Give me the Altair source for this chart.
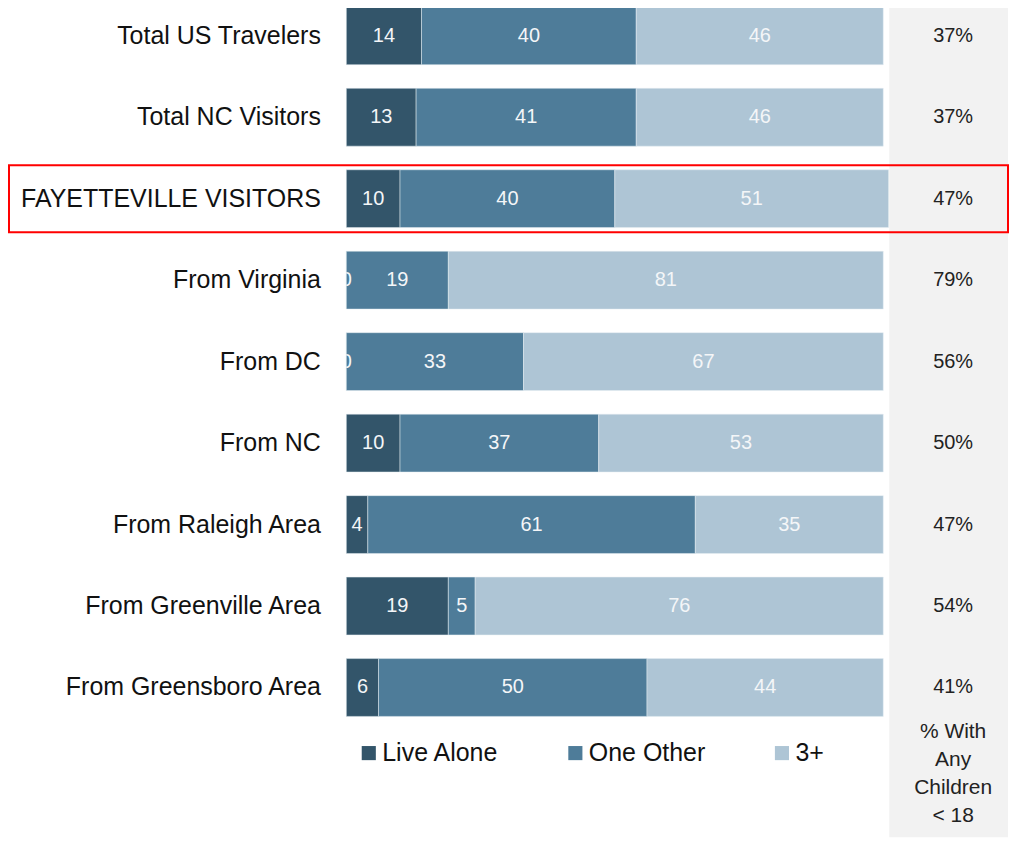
import altair as alt
import pandas as pd

categories = ["Total US Travelers", "Total NC Visitors", "FAYETTEVILLE VISITORS",
              "From Virginia", "From DC", "From NC", "From Raleigh Area",
              "From Greenville Area", "From Greensboro Area"]
live_alone = [14, 13, 10, 0, 0, 10, 4, 19, 6]
one_other = [40, 41, 40, 19, 33, 37, 61, 5, 50]
three_plus = [46, 46, 51, 81, 67, 53, 35, 76, 44]
pct_children = [37, 37, 47, 79, 56, 50, 47, 54, 41]
series = ["Live Alone", "One Other", "3+"]
colors = ["#33556A", "#4E7C99", "#AEC5D5"]
highlight = "FAYETTEVILLE VISITORS"
footer = "% With\nAny\nChildren\n< 18"

rows = []
for i, c in enumerate(categories):
    for s, vals in zip(series, [live_alone, one_other, three_plus]):
        rows.append({"cat": c, "series": s, "order": series.index(s), "value": vals[i]})
df = pd.DataFrame(rows)
pct_df = pd.DataFrame({"cat": categories, "pct": [f"{p}%" for p in pct_children]})
hl_df = pd.DataFrame({"cat": [highlight]})

FONT = "Liberation Sans, Arial, sans-serif"
NARROW = "Liberation Sans Narrow, Arial Narrow, Liberation Sans, sans-serif"
W = 538
H = 711

y_enc = alt.Y("cat:N", sort=categories,
              scale=alt.Scale(paddingInner=0.29, paddingOuter=0),
              axis=alt.Axis(title=None, domain=False, ticks=False, labelFontSize=25,
                            labelFont=FONT, labelColor="#111111", labelPadding=26,
                            labelLimit=400))

gray = alt.Chart(pd.DataFrame({"a": [1]})).mark_rect(color="#F2F2F2").encode(
    x=alt.value(544), x2=alt.value(663), y=alt.value(0), y2=alt.value(832))

box = alt.Chart(hl_df).mark_rect(filled=False, stroke="#FF0000", strokeWidth=2,
                                 height={"band": 1.16}).encode(
    y=alt.Y("cat:N", sort=categories), x=alt.value(-338), x2=alt.value(663))

base = alt.Chart(df).transform_stack(
    stack="value", groupby=["cat"], as_=["x0", "x1"], sort=[alt.SortField("order")]
).transform_calculate(mid="(datum.x0 + datum.x1) / 2")

bars = base.mark_bar(stroke="#E6EEF3", strokeWidth=0.5).encode(
    y=y_enc,
    x=alt.X("x0:Q", scale=alt.Scale(domain=[0, 100], nice=False), axis=None),
    x2="x1:Q",
    color=alt.Color("series:N", sort=series,
                    scale=alt.Scale(domain=series, range=colors),
                    legend=alt.Legend(title=None, orient="none", legendX=10, legendY=735,
                                      direction="horizontal", columns=3, gridAlign="all",
                                      columnPadding=64, symbolType="square", symbolSize=200,
                                      symbolStrokeWidth=0, labelFontSize=25, labelFont=NARROW,
                                      labelColor="#111111", symbolOffset=0, labelOffset=1,
                                      padding=0)),
)

labels = base.mark_text(fontSize=20, font=FONT, color="#F4F6F8", clip=True).encode(
    y=alt.Y("cat:N", sort=categories),
    x=alt.X("mid:Q"),
    text=alt.Text("value:Q"),
)

pcts = alt.Chart(pct_df).mark_text(fontSize=20, font=FONT, color="#222222").encode(
    y=alt.Y("cat:N", sort=categories), x=alt.value(608), text="pct:N")

foot = alt.Chart(pd.DataFrame({"t": [footer]})).mark_text(
    fontSize=21, font=NARROW, color="#222222", lineBreak="\n", lineHeight=28,
    baseline="top").encode(x=alt.value(608), y=alt.value(716), text="t:N")

chart = alt.layer(gray, box, bars, labels, pcts, foot).properties(
    width=W, height=H,
    padding={"top": -3, "left": 0, "right": 0, "bottom": 0}
).configure_view(stroke=None, strokeWidth=0)

chart.save("out.html", embed_options={"renderer": "svg", "actions": False})
